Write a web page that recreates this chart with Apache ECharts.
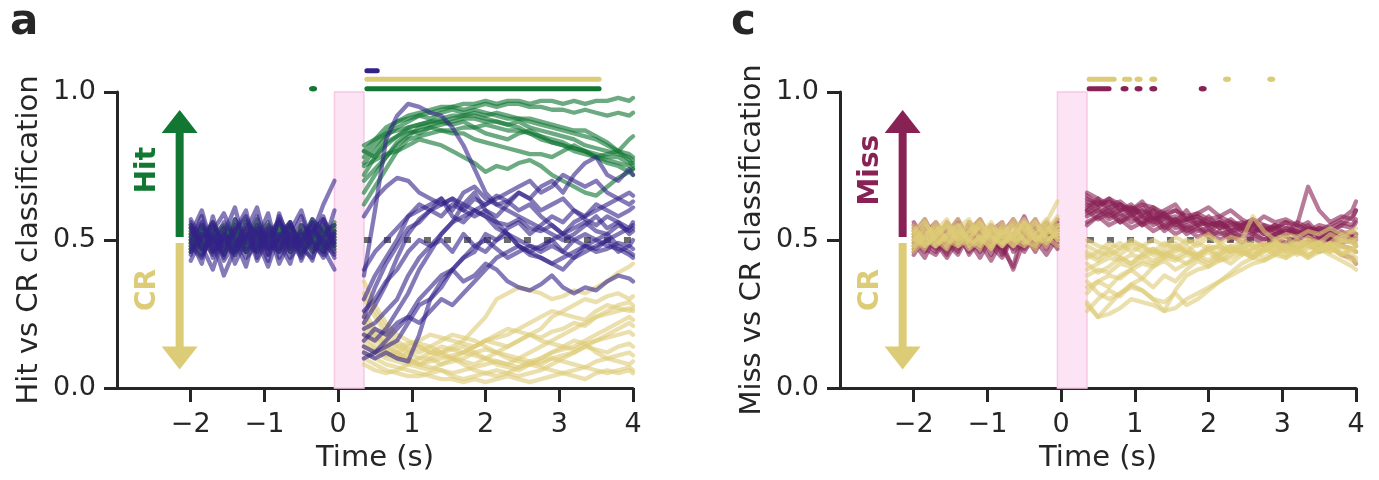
<!DOCTYPE html>
<html><head><meta charset="utf-8">
<script src="https://cdn.jsdelivr.net/npm/echarts@6/dist/echarts.min.js"></script>
<style>html,body{margin:0;padding:0;background:#fff}#c{width:1379px;height:480px}</style>
</head><body><div id="c"></div>
<script>
// ---- time bases (s) ----
const preT  = [-2.0,-1.85,-1.7,-1.55,-1.4,-1.25,-1.1,-0.95,-0.8,-0.65,-0.5,-0.35,-0.2,-0.05];
const postT = [0.35,0.5,0.65,0.8,0.95,1.1,1.25,1.4,1.55,1.7,1.85,2.0,2.15,2.3,2.45,2.6,2.75,2.9,3.05,3.2,3.35,3.5,3.65,3.8,3.95,4.0];
const xTickValues = [-2,-1,0,1,2,3,4];
const yTickValues = [0,50,100];   // classification (%)

// ---- panel a: Hit vs CR classifier (values in %) ----
const hitPreA = [
[52,47,55,49,53,46,51,56,48,52,45,50,54,49],
[48,54,46,51,57,49,53,47,55,50,52,47,51,56],
[50,45,52,55,48,53,47,51,46,54,49,56,48,52],
[55,49,51,46,52,57,48,50,54,47,53,49,55,50],
[46,52,49,54,47,50,55,48,52,56,47,51,46,53],
[53,50,56,48,45,52,49,54,50,46,55,52,48,51],
[49,55,47,52,50,46,54,51,47,53,50,57,52,48],
[51,47,53,50,55,48,46,52,56,49,51,46,53,55],
[47,53,50,45,51,54,52,47,49,55,48,53,50,47],
[54,48,51,53,46,50,57,49,53,48,52,50,47,54]];
const hitPostA = [
[78,82,86,90,92,93,94,95,95,96,96,97,96,97,97,96,97,97,96,97,96,97,97,98,97,98],
[80,84,88,90,91,92,93,94,95,94,95,96,95,96,96,95,95,94,94,93,94,93,92,93,92,93],
[76,80,85,88,90,92,91,93,94,93,94,93,92,91,91,90,89,88,87,86,85,84,82,80,79,78],
[72,78,83,85,87,86,88,89,90,91,91,90,90,89,88,86,85,83,82,80,79,78,77,76,75,74],
[82,84,86,87,88,89,90,90,91,92,92,91,90,89,90,88,87,86,85,84,82,81,80,79,78,77],
[66,72,78,83,86,87,88,87,86,86,84,83,82,81,80,79,79,78,80,82,80,78,76,75,73,72],
[62,68,74,80,84,85,86,87,87,88,88,89,88,87,87,86,84,83,82,81,80,78,79,80,84,85],
[75,77,79,80,82,84,83,82,80,78,76,73,75,74,76,77,75,72,70,68,66,65,68,71,73,74],
[80,78,82,85,88,89,90,91,92,92,93,92,93,92,91,91,90,89,88,87,87,85,83,80,77,75],
[70,74,78,82,85,88,89,90,89,90,88,86,85,84,86,87,85,84,83,81,80,79,78,78,76,76]];
const otherPreA = [
[50,42,58,45,53,60,44,52,47,55,49,43,57,51],
[56,48,40,52,61,47,53,45,58,50,44,55,48,60],
[45,55,50,38,47,56,52,43,59,48,53,46,51,44],
[52,60,47,54,42,50,58,45,51,56,43,52,62,70],
[48,44,53,59,50,41,55,49,46,53,60,48,45,52],
[57,50,45,52,48,55,43,51,57,46,50,54,47,40],
[43,51,56,48,54,46,50,59,44,52,48,57,53,49],
[54,47,52,44,57,50,46,53,49,42,55,51,58,46],
[49,58,46,51,45,53,61,47,50,56,47,44,52,55],
[46,52,49,56,51,44,48,54,42,50,58,49,46,53],
[55,45,51,47,53,58,50,41,52,47,51,56,49,45],
[51,56,44,50,46,52,47,55,51,44,49,53,57,48],
[47,50,55,43,49,51,54,48,56,51,46,50,44,50]];
const otherPostA = [
[38,60,84,92,96,95,93,92,88,82,74,66,62,63,60,62,58,55,52,50,48,47,50,46,48,47],
[58,64,68,71,70,66,64,62,64,60,58,60,56,55,57,54,53,55,52,54,56,53,52,55,53,54],
[22,28,35,44,52,57,60,58,62,60,64,62,65,63,66,64,68,70,66,72,76,78,72,70,74,72],
[12,10,12,10,9,18,30,34,40,44,46,52,50,54,56,52,55,58,56,60,57,55,58,56,54,56],
[20,22,26,30,38,44,48,50,46,52,48,50,47,44,46,48,47,50,46,44,48,46,47,49,48,50],
[14,12,16,20,24,30,34,38,40,36,38,42,40,36,34,33,35,38,34,32,34,33,36,38,37,36],
[24,34,42,48,54,56,60,62,64,62,60,58,56,52,50,48,46,48,46,50,52,50,48,47,45,44],
[18,16,20,26,32,40,46,52,56,58,60,62,64,66,68,70,66,68,72,70,68,70,66,64,66,65],
[10,12,14,16,22,28,30,36,40,44,48,46,50,52,48,46,48,50,52,56,58,60,62,64,62,63],
[30,38,44,50,58,62,60,64,58,56,60,58,54,52,48,46,44,42,40,44,46,48,50,52,54,55],
[16,20,18,22,24,22,26,30,28,32,36,40,44,46,48,45,44,42,44,46,48,50,52,48,46,45],
[26,30,36,40,46,50,48,52,56,62,66,60,58,62,66,64,60,62,64,60,58,62,60,58,60,61],
[40,46,50,54,58,60,62,64,60,66,68,64,62,60,58,56,54,52,50,52,55,58,54,56,52,53]];
const crPreA = [
[50,53,47,51,55,48,52,46,50,54,49,52,47,51],
[47,51,54,48,50,46,53,51,55,48,52,46,50,53],
[53,48,50,55,47,52,49,54,47,51,55,49,53,48],
[49,55,51,46,53,50,47,52,50,46,51,54,48,50],
[52,46,49,53,48,55,51,47,53,49,47,52,55,47],
[46,50,54,49,52,47,55,50,46,52,50,48,51,54],
[54,49,46,52,50,53,48,55,49,47,53,50,46,52],
[48,52,50,47,55,49,46,51,54,50,48,55,52,49],
[51,47,53,50,46,51,54,48,52,55,46,51,49,53],
[50,54,48,53,49,46,52,50,47,53,50,47,54,50],
[47,50,52,48,54,51,49,53,50,46,54,49,51,47],
[53,49,47,54,51,48,50,46,52,49,51,53,48,52],
[49,52,51,46,48,54,50,52,47,51,48,50,52,46]];
const crPostA = [
[36,28,22,18,16,14,12,12,14,16,20,24,30,32,34,33,32,30,31,33,32,34,36,39,41,42],
[30,24,18,14,12,10,10,8,9,10,12,13,12,14,16,18,20,24,26,28,30,29,31,32,30,31],
[22,18,14,12,10,8,7,6,5,6,7,8,9,8,10,12,14,16,18,20,22,24,26,28,29,28],
[14,12,10,9,8,10,12,14,13,12,14,16,15,14,16,18,17,19,20,22,21,24,25,26,27,26],
[10,8,6,5,4,4,5,6,4,3,4,5,6,5,4,5,6,8,10,12,14,16,18,20,22,21],
[26,20,16,14,15,16,18,17,16,15,14,16,18,20,19,18,16,15,14,13,15,16,17,18,19,18],
[12,10,8,7,6,5,4,3,3,2,3,2,3,4,3,2,3,4,5,4,3,5,6,5,6,5],
[18,14,12,10,12,14,12,11,10,9,8,10,12,11,10,9,8,10,11,12,14,13,12,14,15,14],
[8,6,5,6,8,7,6,8,10,12,11,10,9,8,7,8,9,10,9,8,7,9,10,9,8,9],
[32,26,20,16,13,12,14,16,18,17,16,14,12,10,9,8,7,6,5,6,7,6,5,6,7,6],
[16,13,11,12,14,15,14,12,10,8,6,5,4,5,7,9,10,12,13,14,16,18,20,22,24,23],
[24,18,15,12,10,8,9,10,11,12,14,16,17,18,20,22,24,26,25,24,23,26,28,27,26,27],
[20,16,13,11,9,8,10,12,13,14,12,10,8,7,6,8,10,12,14,16,15,12,10,11,12,11]];

// ---- panel c: Miss vs CR classifier (values in %) ----
const missPreC = [
[50,46,54,49,45,52,56,48,51,47,53,49,55,52],
[47,53,49,56,51,46,50,54,45,52,49,55,50,57],
[54,49,46,52,57,50,44,51,55,48,52,46,53,50],
[45,51,55,48,50,54,49,43,50,56,47,51,48,54],
[52,57,50,45,53,48,55,50,46,51,58,49,52,47],
[49,44,52,55,47,51,46,53,49,40,50,54,47,55],
[56,50,47,53,49,55,51,47,53,50,46,52,56,49],
[48,54,51,46,56,49,53,45,52,57,50,47,51,53],
[53,47,45,51,48,53,57,50,47,41,55,50,45,51],
[46,52,56,50,54,45,50,55,51,48,52,57,50,48],
[51,55,49,44,50,52,47,53,56,46,49,53,54,50],
[55,48,52,50,46,56,52,48,44,51,54,48,50,56]];
const missPostC = [
[64,62,63,60,61,58,60,57,58,56,57,55,56,54,55,53,54,52,53,52,54,53,51,52,53,52],
[60,63,61,62,59,60,57,58,56,57,55,56,54,55,56,54,53,55,54,53,52,54,53,52,51,50],
[66,64,62,63,60,62,61,59,60,58,59,57,58,56,55,57,55,54,56,55,53,55,54,56,55,57],
[58,60,57,59,56,58,55,57,54,55,53,54,52,53,51,52,50,52,51,50,49,51,50,48,47,46],
[62,59,61,58,60,56,58,55,57,54,56,55,57,53,54,52,55,53,52,54,56,52,50,53,51,52],
[56,58,55,57,54,56,53,55,52,54,51,53,50,52,49,51,48,50,49,47,49,46,48,45,44,42],
[63,61,64,62,60,63,58,60,62,57,59,61,58,60,57,55,58,56,57,55,68,60,56,58,57,60],
[60,57,59,56,58,55,60,54,57,53,55,52,56,51,54,53,50,52,54,51,53,50,52,55,54,56],
[55,58,60,56,59,55,57,53,56,52,54,51,53,50,52,55,52,51,49,50,52,48,51,49,50,48],
[65,62,64,60,61,59,61,58,60,57,58,56,55,57,54,56,53,55,52,56,54,53,55,57,60,63],
[59,61,58,60,62,58,56,59,55,57,58,54,56,53,55,57,53,54,52,53,51,54,52,50,52,51],
[61,64,59,62,58,61,57,59,56,60,55,58,54,56,53,55,52,54,56,52,55,51,53,55,58,60]];
const crPreC = [
[50,53,48,52,55,49,51,47,53,50,56,52,48,54],
[47,51,55,50,48,53,56,51,49,54,50,47,52,55],
[53,48,51,56,52,47,50,54,51,48,53,57,50,52],
[52,56,50,47,53,51,48,55,52,56,49,52,55,50],
[48,52,54,49,51,56,53,49,55,51,54,50,53,57],
[55,49,52,54,48,50,55,52,48,53,57,51,49,53],
[49,54,50,52,57,48,51,56,50,52,49,55,51,48],
[51,47,53,55,50,54,49,52,56,50,51,53,57,52],
[54,50,48,51,53,50,56,48,52,55,50,48,54,51],
[50,55,52,48,54,57,50,53,49,51,56,50,52,55],
[46,50,53,57,49,52,54,50,53,48,52,56,50,53],
[53,57,49,51,55,50,47,54,51,57,53,49,55,50],
[48,51,56,50,52,55,51,47,54,50,48,52,56,63],
[52,48,51,55,50,53,57,51,48,52,55,50,53,58]];
const crPostC = [
[46,44,47,45,48,46,47,45,48,46,49,47,48,46,49,48,47,49,48,50,48,49,47,50,49,48],
[40,42,44,43,45,44,46,45,47,46,45,47,48,46,47,49,48,47,49,48,50,49,48,50,49,50],
[29,24,28,32,35,33,30,26,33,38,40,41,43,44,46,45,47,46,48,47,49,48,47,49,50,49],
[28,24,25,27,30,29,28,26,27,30,32,34,36,38,40,42,43,45,44,46,45,47,46,48,47,48],
[36,32,30,32,34,33,30,29,32,28,30,33,36,39,42,44,43,45,47,46,48,47,49,48,47,46],
[44,46,45,47,49,48,50,48,51,49,50,52,49,51,50,58,53,50,52,51,53,52,54,52,53,52],
[38,40,39,42,41,43,42,45,44,46,45,48,47,46,48,47,49,48,47,49,48,46,47,45,43,42],
[48,46,49,47,50,48,46,49,47,50,48,51,49,47,50,48,46,49,51,48,50,47,49,52,50,51],
[34,36,38,37,40,42,41,44,43,45,44,42,45,47,46,44,47,45,48,46,44,47,45,43,41,40],
[42,39,41,44,42,45,43,46,44,42,45,47,44,46,48,45,47,50,46,48,51,49,52,50,53,54],
[26,30,33,31,35,37,34,38,36,40,43,41,44,42,45,47,44,46,48,45,47,49,46,48,45,44],
[45,43,46,44,42,45,47,44,46,48,45,43,46,48,45,47,49,46,44,47,49,46,48,45,47,46],
[32,36,34,38,40,37,41,43,40,42,44,46,43,45,47,44,46,48,45,47,44,46,48,45,47,48],
[50,48,47,49,46,48,45,47,49,46,44,47,45,48,46,44,47,49,46,48,45,47,49,46,44,43]];

// ---- significance markers (time ranges in s) ----
const sigA = {
  other: {segs: [[0.39,0.53]], dots: []},
  cr:    {segs: [[0.39,3.54]], dots: []},
  hit:   {segs: [[0.39,3.54]], dots: [-0.34]}
};
const sigC = {
  cr:   {segs: [[0.38,0.72],[0.86,0.93]], dots: [1.05,1.25,2.25,2.85]},
  miss: {segs: [[0.38,0.65]], dots: [0.86,1.05,1.25,1.92]}
};
const stimWindow = [-0.05, 0.35];
const chanceLevel = 50;

// ---- styling ----
const HIT='#117733', CR='#DDCC77', OTHER='#332288', MISS='#882255', AX='#262626';
const FONT='DejaVu Sans';
const chart = echarts.init(document.getElementById('c'), null, {renderer:'canvas', width:1379, height:480});

function lineS(gi, times, vals, color, op){
  return {type:'line', xAxisIndex:gi, yAxisIndex:gi, data: vals.map((v,i)=>[times[i], v]),
    symbol:'none', silent:true, z:3,
    lineStyle:{color:color, width:4.3, opacity:op, join:'round', cap:'round'}};
}
function traces(gi, preArr, postArr, color, op){
  const out=[];
  preArr.forEach(v=>out.push(lineS(gi, preT, v, color, op)));
  postArr.forEach(v=>out.push(lineS(gi, postT, v, color, op)));
  return out;
}
function sigSeries(gi, sig, yv, color){
  const out=[];
  sig.segs.forEach(s=>out.push({type:'line', xAxisIndex:gi, yAxisIndex:gi, clip:false, symbol:'none', silent:true, z:5,
    data:[[s[0],yv],[s[1],yv]], lineStyle:{color:color, width:5, cap:'round'}}));
  if (sig.dots.length) out.push({type:'scatter', xAxisIndex:gi, yAxisIndex:gi, clip:false, silent:true, z:5,
    symbol:'circle', symbolSize:[8,5.5], itemStyle:{color:color, opacity:1}, data: sig.dots.map(d=>[d,yv])});
  return out;
}
function arrowSeries(gi, colorUp, colorDown){
  const ax=-2.15;
  return [
    {type:'line', xAxisIndex:gi, yAxisIndex:gi, symbol:'none', silent:true, z:4, data:[[ax,51],[ax,87]], lineStyle:{color:colorUp,width:8,cap:'butt'}},
    {type:'scatter', xAxisIndex:gi, yAxisIndex:gi, silent:true, z:4, symbol:'triangle', symbolSize:[36,23], itemStyle:{color:colorUp, opacity:1}, data:[[ax,90]]},
    {type:'line', xAxisIndex:gi, yAxisIndex:gi, symbol:'none', silent:true, z:4, data:[[ax,49],[ax,13.5]], lineStyle:{color:colorDown,width:8,cap:'butt'}},
    {type:'scatter', xAxisIndex:gi, yAxisIndex:gi, silent:true, z:4, symbol:'triangle', symbolRotate:180, symbolSize:[36,23], itemStyle:{color:colorDown, opacity:1}, data:[[ax,10.1]]}
  ];
}
function chanceSeries(gi){
  return {type:'line', xAxisIndex:gi, yAxisIndex:gi, symbol:'none', silent:true, z:2,
    data:[[stimWindow[1],chanceLevel],[4,chanceLevel]],
    lineStyle:{color:'#6b6b6b', width:6, type:[7,13], cap:'butt'},
    markArea:{silent:true, label:{show:false}, itemStyle:{color:'#fde4f5', borderColor:'#f6c8e6', borderWidth:1.5},
      data:[[{coord:[stimWindow[0],0]},{coord:[stimWindow[1],100]}]]}};
}
function xAx(gi){
  return {type:'value', gridIndex:gi, min:-3, max:4, interval:1,
    axisLine:{show:true, onZero:false, lineStyle:{color:AX, width:3}},
    axisTick:{show:true, length:14, customValues:xTickValues, lineStyle:{color:AX, width:3}},
    axisLabel:{customValues:xTickValues, fontSize:27, color:AX, margin:23, fontFamily:FONT,
      formatter:v=> v<0 ? '\u2212'+(-v) : String(v)},
    splitLine:{show:false},
    name:'Time (s)', nameLocation:'middle', nameGap:56,
    nameTextStyle:{fontSize:29, color:AX, fontFamily:FONT}};
}
function yAx(gi, name){
  return {type:'value', gridIndex:gi, min:yTickValues[0], max:yTickValues[2], interval:50,
    axisLine:{show:true, onZero:false, lineStyle:{color:AX, width:3}},
    axisTick:{show:true, length:13, lineStyle:{color:AX, width:3}},
    axisLabel:{fontSize:27, color:AX, margin:21, fontFamily:FONT,
      formatter:v=>(v/100).toFixed(1)},
    splitLine:{show:false},
    name:name, nameLocation:'middle', nameGap:73,
    nameTextStyle:{fontSize:29, color:AX, fontFamily:FONT}};
}

const series = [].concat(
  [chanceSeries(0)],
  traces(0, crPreA, crPostA, CR, 0.6),
  traces(0, hitPreA, hitPostA, HIT, 0.62),
  traces(0, otherPreA, otherPostA, OTHER, 0.6),
  arrowSeries(0, HIT, CR),
  sigSeries(0, sigA.other, 107.2, OTHER),
  sigSeries(0, sigA.cr, 104.3, CR),
  sigSeries(0, sigA.hit, 101.1, HIT),
  [chanceSeries(1)],
  traces(1, missPreC, missPostC, MISS, 0.6),
  traces(1, crPreC, crPostC, CR, 0.6),
  arrowSeries(1, MISS, CR),
  sigSeries(1, sigC.cr, 104.3, CR),
  sigSeries(1, sigC.miss, 101.1, MISS)
);

chart.setOption({
  backgroundColor:'#fff', animation:false,
  textStyle:{fontFamily:FONT},
  grid:[{left:117, top:92, width:516, height:296, outerBoundsMode:'none'},
        {left:840, top:92, width:516, height:296, outerBoundsMode:'none'}],
  xAxis:[xAx(0), xAx(1)],
  yAxis:[yAx(0,'Hit vs CR classification'), yAx(1,'Miss vs CR classification')],
  series: series
});

function tx(gi, x, y, text, color){
  const p = chart.convertToPixel({gridIndex:gi}, [x,y]);
  return {type:'text', x:p[0], y:p[1], rotation:Math.PI/2, z:10, silent:true,
    style:{text:text, fill:color, font:'bold 28px "DejaVu Sans"', align:'center', verticalAlign:'middle'}};
}
chart.setOption({graphic:[
  {type:'text', x:10, y:2, silent:true, style:{text:'a', fill:AX, font:'bold 42px "DejaVu Sans"', verticalAlign:'top'}},
  {type:'text', x:731, y:2, silent:true, style:{text:'c', fill:AX, font:'bold 42px "DejaVu Sans"', verticalAlign:'top'}},
  tx(0, -2.58, 73.6, 'Hit', HIT),
  tx(0, -2.58, 33.1, 'CR', CR),
  tx(1, -2.585, 73.6, 'Miss', MISS),
  tx(1, -2.585, 33.1, 'CR', CR)
]});
</script>
</body></html>
